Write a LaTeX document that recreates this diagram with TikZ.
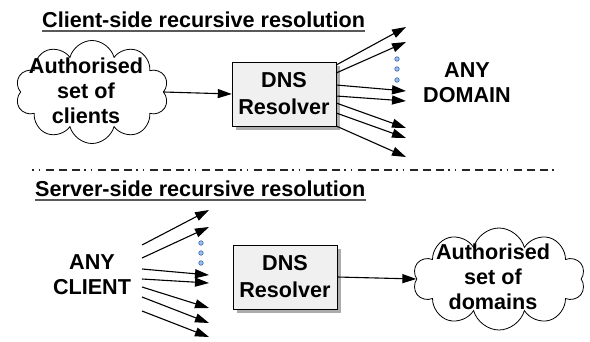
\documentclass[tikz,border=0pt]{standalone}
\usepackage{fontspec}
\setmainfont{Liberation Sans}
\usetikzlibrary{arrows.meta,shapes.symbols,shadows}
\definecolor{dotfill}{RGB}{150,192,240}
\definecolor{dotline}{RGB}{60,100,170}
\newcommand{\bigfont}{\fontsize{21.6}{25}\selectfont\bfseries}
\newcommand{\boxfont}{\fontsize{21.6}{27}\selectfont\bfseries}
\tikzstyle{resolver}=[draw=black, fill=gray!12, minimum width=104pt, minimum height=64pt, align=center, font=\boxfont, drop shadow={shadow xshift=4pt, shadow yshift=-4pt, fill=gray!65, opacity=1}]
\tikzstyle{puff}=[cloud, cloud puffs=10, draw=black, fill=white, thick]
\tikzstyle{words}=[align=center, font=\bigfont, inner sep=0pt]
\tikzstyle{heading}=[font=\bigfont, inner sep=0pt, text depth=0pt, anchor=south west]
\tikzstyle{uline}=[draw=black!65, line width=1.4pt]
\tikzstyle{dotblue}=[circle, draw=dotline, fill=dotfill, inner sep=0pt, minimum size=4.5pt, line width=0.6pt]
\tikzstyle{arrow}=[draw=black, line width=1.1pt, -{Triangle[length=14pt,width=9pt]}]
\tikzstyle{divider}=[draw=black!85, line width=1.8pt, dash pattern=on 1.5pt off 5pt on 1.5pt off 5.5pt on 8pt off 5pt on 8pt off 5pt on 8pt off 4.5pt]

\begin{document}
\begin{tikzpicture}[x=1pt, y=-1pt]
	\useasboundingbox (0,0) rectangle (590,341);
	% client-side
	\begin{scope}
		\node (h1) at (42,28)[heading] {Client-side recursive resolution};
		\draw[uline] ([yshift=-3pt]h1.south west) -- ([yshift=-3pt]h1.south east);
		\node (cl1) at (92,92)[puff, minimum width=153pt, minimum height=103pt] {};
		\node (cl1txt) at (86,91)[words] {Authorised\\set of\\clients};
		\node (res1) at (284,94)[resolver] {DNS\\Resolver};
		\node (dom) at (467,83)[words] {ANY\\DOMAIN};
		\draw[arrow] (cl1.east) -- (res1.west);
		\foreach \i/\a/\b in {1/65/27, 2/73/42, 3/85/91, 4/96/101, 5/103/128, 6/113/138, 7/126/157} {
			\coordinate (d\i) at (406,\b);
			\draw[arrow] (res1.east |- 0,\a) -- (d\i);
		}
		\foreach \y in {59, 69, 80}
			\node at (397,\y)[dotblue] {};
	\end{scope}
	\draw[divider] (32,170) -- (558,170);
	% server-side
	\begin{scope}
		\node (h2) at (35,197)[heading] {Server-side recursive resolution};
		\draw[uline] ([yshift=-3pt]h2.south west) -- ([yshift=-3pt]h2.south east);
		\node (cli) at (92,275)[words] {ANY\\CLIENT};
		\node (res2) at (285,277)[resolver] {DNS\\Resolver};
		\node (cl2) at (499,279)[puff, minimum width=172pt, minimum height=102pt] {};
		\node (cl2txt) at (493,277)[words] {Authorised\\set of\\domains};
		\draw[arrow] (res2.east) -- (cl2.west);
		\foreach \i/\a/\b in {1/245/210, 2/258/227, 3/269/275, 4/279/283, 5/287/308, 6/297/323, 7/311/337} {
			\coordinate (s\i) at (142,\a);
			\coordinate (e\i) at (209,\b);
			\draw[arrow] (s\i) -- (e\i);
		}
		\foreach \y in {243, 253, 263}
			\node at (201,\y)[dotblue] {};
	\end{scope}
\end{tikzpicture}
\end{document}
